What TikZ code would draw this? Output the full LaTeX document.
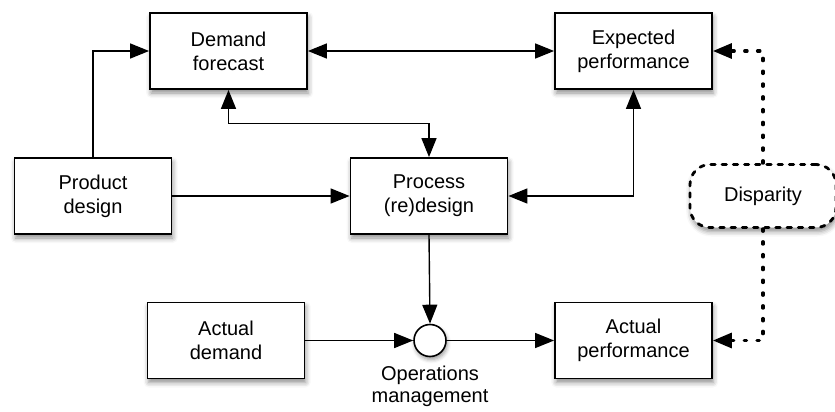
\documentclass[tikz,border=0pt]{standalone}
\usepackage{fontspec}
\setmainfont{Liberation Sans}
\usetikzlibrary{arrows.meta,shadows.blur,calc}
\tikzset{
  box/.style={draw=black, line width=0.9pt, fill=white, minimum width=78.5pt, minimum height=38pt,
    align=center, font=\fontsize{10pt}{12pt}\selectfont,
    blur shadow={shadow xshift=0.6pt, shadow yshift=-2pt, shadow blur radius=2.5pt, shadow opacity=45}},
  opcircle/.style={circle, draw=black, line width=0.8pt, fill=white, minimum size=16pt, inner sep=0pt,
    blur shadow={shadow xshift=0.6pt, shadow yshift=-1.5pt, shadow blur radius=2pt, shadow opacity=40}},
  dispbox/.style={draw=black, line width=1.4pt, line cap=round, dash pattern=on 2.2pt off 3.4pt,
    rounded corners=10pt, fill=white, minimum width=73pt, minimum height=31.5pt,
    font=\fontsize{10pt}{12pt}\selectfont,
    blur shadow={shadow xshift=0.6pt, shadow yshift=-2pt, shadow blur radius=2.5pt, shadow opacity=45}},
  tip/.tip={Triangle[length=9.5pt,width=7.5pt]},
  conn/.style={line width=0.7pt, -tip},
  biconn/.style={line width=0.7pt, tip-tip},
  dotconn/.style={line width=1.6pt, line cap=round, dash pattern=on 1.2pt off 5.2pt, -tip},
  lbl/.style={align=center, font=\fontsize{10pt}{11pt}\selectfont}
}
\begin{document}
\begin{tikzpicture}[x=0.5pt,y=-0.5pt]
\useasboundingbox (0,0) rectangle (835,412);
\node[box] (df) at (228.5,51) {Demand\\forecast};
\node[box] (ep) at (633.5,51) {Expected\\performance};
\node[box] (pd) at (93,196) {Product\\design};
\node[box] (pr) at (429,196) {Process\\(re)design};
\node[box] (ad) at (226,340.5) {Actual\\demand};
\node[box] (ap) at (633.5,340.5) {Actual\\performance};
\node[opcircle] (om) at (430,340.5) {};
\node[lbl, anchor=north] (oml) at (430,359) {Operations\\management};
\node[dispbox] (dp) at (763,196) {Disparity};

\draw[conn] (pd.north) |- (df.west);
\draw[biconn] (df.east) -- (ep.west);
\coordinate (mid) at ($(df.south)!0.5!(pr.north)$);
\draw[biconn] (df.south) |- (mid) -| (pr.north);
\draw[conn] (pd.east) -- (pr.west);
\draw[biconn] (ep.south) |- (pr.east);
\draw[conn] (pr.south) -- (om.north);
\draw[conn] (ad.east) -- (om.west);
\draw[conn] (om.east) -- (ap.west);
\draw[dotconn] (dp.north) |- (ep.east);
\draw[dotconn] (dp.south) |- (ap.east);
\end{tikzpicture}
\end{document}
